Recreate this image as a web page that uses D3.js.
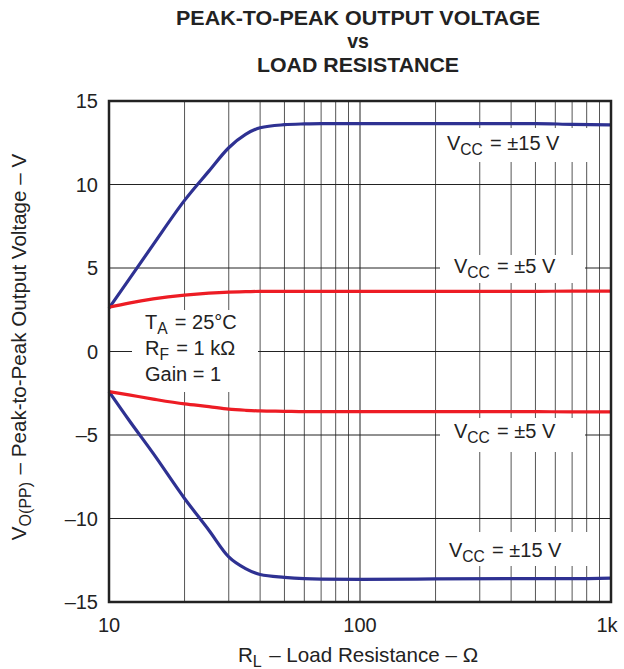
<!DOCTYPE html>
<html><head><meta charset="utf-8">
<script src="https://cdn.jsdelivr.net/npm/d3@7"></script>
<style>
html,body{margin:0;padding:0;background:#fff;}
text{font-family:"Liberation Sans",Arial,Helvetica,sans-serif;fill:#222;}
</style></head>
<body><svg id="c" width="624" height="669"></svg>
<script>
// ---- data ----
const rl = [10, 12, 15, 20, 25, 30, 35, 40, 50, 60, 70, 100, 200, 500, 700, 1000];
const vPos15 = [2.6, 4.3, 6.4, 9.05, 10.8, 12.2, 13.0, 13.4, 13.58, 13.63, 13.65, 13.65, 13.65, 13.65, 13.6, 13.57];
const vPos5  = [2.65, 2.9, 3.15, 3.38, 3.5, 3.56, 3.58, 3.6, 3.6, 3.6, 3.6, 3.6, 3.6, 3.6, 3.62, 3.62];
const vNeg5  = [-2.4, -2.6, -2.85, -3.14, -3.3, -3.45, -3.52, -3.56, -3.58, -3.6, -3.6, -3.6, -3.6, -3.6, -3.62, -3.62];
const vNeg15 = [-2.4, -4.1, -6.1, -8.8, -10.7, -12.3, -13.0, -13.35, -13.52, -13.6, -13.63, -13.65, -13.62, -13.6, -13.6, -13.57];
const xTicks = [10, 100, 1000];
const xTickLabels = ["10", "100", "1k"];
const xMinor = [20,30,40,50,60,70,80,90,200,300,400,500,600,700,800,900];
const yTicks = [-15, -10, -5, 0, 5, 10, 15];
const yTickLabels = ["\u201315", "\u201310", "\u20135", "0", "5", "10", "15"];
const titleLines = ["PEAK-TO-PEAK OUTPUT VOLTAGE", "vs", "LOAD RESISTANCE"];

// ---- layout ----
const L = 109, R = 611, T = 101, B = 602;
const svg = d3.select("#c");
const x = d3.scaleLog().domain([10, 1000]).range([L, R]);
const y = d3.scaleLinear().domain([-15, 15]).range([B, T]);
const BLUE = "#2e3192", RED = "#ed1c24";

// title
const tY = [25, 48, 72];
const tW = [364, null, 202];
titleLines.forEach((t, i) => {
  const el = svg.append("text").attr("x", 358).attr("y", tY[i])
    .attr("text-anchor", "middle").style("font-weight", "bold").style("font-size", "19.5px").text(t);
  if (tW[i]) el.attr("textLength", tW[i]).attr("lengthAdjust", "spacingAndGlyphs");
});

// grid
const g = svg.append("g");
g.selectAll("line.minor").data(xMinor).join("line")
  .attr("x1", d => x(d)).attr("x2", d => x(d)).attr("y1", T).attr("y2", B)
  .attr("stroke", "#555").attr("stroke-width", 1);
g.selectAll("line.maj").data(xTicks).join("line")
  .attr("x1", d => x(d)).attr("x2", d => x(d)).attr("y1", T).attr("y2", B)
  .attr("stroke", "#222").attr("stroke-width", 1);
g.selectAll("line.h").data(yTicks).join("line")
  .attr("x1", L).attr("x2", R).attr("y1", d => y(d)).attr("y2", d => y(d))
  .attr("stroke", "#222").attr("stroke-width", 1);

// white boxes behind annotations
const boxes = [[440, 128, 152, 34], [440, 255, 145, 28], [440, 418, 145, 34], [440, 532, 152, 34], [132, 310, 126, 82]];
svg.selectAll("rect.box").data(boxes).join("rect")
  .attr("x", d => d[0]).attr("y", d => d[1]).attr("width", d => d[2]).attr("height", d => d[3]).attr("fill", "#fff");

// curves
const line = d3.line().x((d, i) => x(rl[i])).y(d => y(d)).curve(d3.curveMonotoneX);
[[vPos15, BLUE], [vNeg15, BLUE], [vPos5, RED], [vNeg5, RED]].forEach(([s, c]) =>
  svg.append("path").attr("d", line(s)).attr("fill", "none").attr("stroke", c).attr("stroke-width", 3.2).attr("stroke-linejoin", "round"));

// frame
svg.append("rect").attr("x", L).attr("y", T).attr("width", R - L).attr("height", B - T)
  .attr("fill", "none").attr("stroke", "#222").attr("stroke-width", 2.5);

// tick labels
const fs = "20px";
svg.selectAll("text.yt").data(yTicks).join("text")
  .attr("x", 98).attr("y", d => y(d) + 7).attr("text-anchor", "end").style("font-size", fs)
  .text((d, i) => yTickLabels[i]);
svg.selectAll("text.xt").data(xTicks).join("text")
  .attr("x", (d, i) => x(d) - (i === 2 ? 4 : 0)).attr("y", 632).attr("text-anchor", "middle").style("font-size", fs)
  .text((d, i) => xTickLabels[i]);

// labeled text helper with subscripts
function rich(parent, xx, yy, parts, anchor, size) {
  const f = size || 20;
  const t = parent.append("text").attr("x", xx).attr("y", yy).style("font-size", f + "px").attr("text-anchor", anchor || "start");
  parts.forEach(p => {
    if (typeof p === "string") t.append("tspan").text(p);
    else {
      t.append("tspan").attr("dy", 5).style("font-size", (f * 0.78) + "px").text(p.sub);
      t.append("tspan").attr("dy", -5).text("\u200a");
    }
  });
  return t;
}
rich(svg, 447, 150, ["V", {sub: "CC"}, " = \u00b115 V"]);
rich(svg, 454, 273, ["V", {sub: "CC"}, " = \u00b15 V"]);
rich(svg, 454, 438, ["V", {sub: "CC"}, " = \u00b15 V"]);
rich(svg, 449, 557, ["V", {sub: "CC"}, " = \u00b115 V"]);
rich(svg, 145, 329, ["T", {sub: "A"}, " = 25\u00b0C"]);
rich(svg, 145, 355, ["R", {sub: "F"}, " = 1 k\u03a9"]);
rich(svg, 145, 381, ["Gain = 1"]);

// axis titles
rich(svg, 358, 662, ["R", {sub: "L"}, " \u2013 Load Resistance \u2013 \u03a9"], "middle", 20.6);
const yl = svg.append("g").attr("transform", "translate(26,347) rotate(-90)");
rich(yl, 0, 0, ["V", {sub: "O(PP)"}, " \u2013 Peak-to-Peak Output Voltage \u2013 V"], "middle", 20.6);
</script></body></html>
